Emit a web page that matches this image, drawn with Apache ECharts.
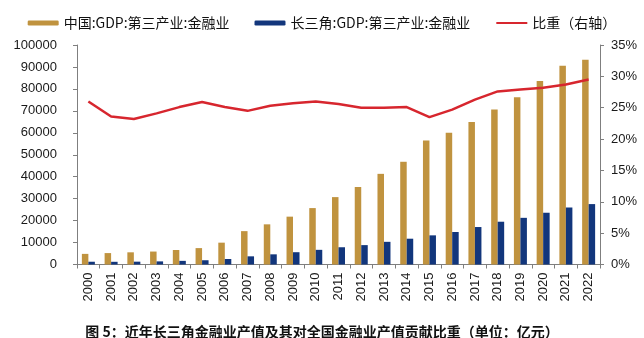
<!DOCTYPE html>
<html>
<head>
<meta charset="utf-8">
<script src="https://cdn.jsdelivr.net/npm/echarts@6/dist/echarts.min.js"></script>
<style>
html,body{margin:0;padding:0;background:#fff;}
#c{width:644px;height:338px;}
</style>
</head>
<body>
<div id="c"></div>
<script>
const years = ['2000','2001','2002','2003','2004','2005','2006','2007','2008','2009','2010','2011','2012','2013','2014','2015','2016','2017','2018','2019','2020','2021','2022'];
const chinaFinance = [4840,5200,5550,5900,6600,7470,9950,15200,18300,21800,25700,30700,35300,41300,46800,56500,60000,64900,70600,76200,83600,90500,93300];
const yrdFinance = [1260,1230,1290,1420,1660,1940,2500,3720,4630,5600,6680,7860,8830,10330,11750,13280,14820,17070,19490,21260,23580,25970,27520];
const shareRatio = [26.0,23.6,23.2,24.1,25.1,25.9,25.1,24.5,25.3,25.7,26.0,25.6,25.0,25.0,25.1,23.5,24.7,26.3,27.6,27.9,28.2,28.7,29.5];
const seriesNames = ['中国:GDP:第三产业:金融业','长三角:GDP:第三产业:金融业','比重（右轴）'];
const caption = '图 5：近年长三角金融业产值及其对全国金融业产值贡献比重（单位：亿元）';

const axisFont = {fontFamily:'Liberation Sans, Arial, sans-serif', fontSize:13, color:'#1a1a1a'};
const axisLineStyle = {lineStyle:{color:'#7f7f7f', width:1}};

const chart = echarts.init(document.getElementById('c'), null, {renderer:'canvas'});
chart.setOption({
  animation:false,
  backgroundColor:'#fff',
  title:{
    text:caption,
    left:'center',
    top:318,
    textStyle:{fontFamily:'Noto Sans CJK SC', fontSize:14, lineHeight:18, fontWeight:'bold', color:'#111'}
  },
  legend:{
    top:11,
    left:'center',
    itemWidth:31,
    itemHeight:5,
    itemGap:25,
    textStyle:{fontFamily:'Noto Sans CJK SC', fontSize:14, color:'#111'},
    data:[
      {name:seriesNames[0]},
      {name:seriesNames[1]},
      {name:seriesNames[2], itemStyle:{color:'rgba(0,0,0,0)', borderWidth:0, opacity:0}}
    ]
  },
  grid:{left:77, right:44, top:45, bottom:73.5, containLabel:false, outerBoundsMode:'none'},
  xAxis:{
    type:'category',
    data:years,
    boundaryGap:true,
    axisLine:axisLineStyle,
    axisTick:{show:true, alignWithLabel:false, length:4, lineStyle:{color:'#7f7f7f'}},
    axisLabel:Object.assign({rotate:90, margin:8, interval:0}, axisFont),
    splitLine:{show:false}
  },
  yAxis:[
    {
      type:'value', min:0, max:100000, interval:10000,
      axisLine:Object.assign({show:true}, axisLineStyle),
      axisTick:{show:true, length:4, lineStyle:{color:'#7f7f7f'}},
      axisLabel:Object.assign({margin:20, formatter:function(v){return String(v);}}, axisFont),
      splitLine:{show:false}
    },
    {
      type:'value', min:0, max:35, interval:5,
      axisLine:Object.assign({show:true}, axisLineStyle),
      axisTick:{show:true, length:4, lineStyle:{color:'#7f7f7f'}},
      axisLabel:Object.assign({margin:11, formatter:'{value}%'}, axisFont),
      splitLine:{show:false}
    }
  ],
  series:[
    {
      name:seriesNames[0], type:'bar', data:chinaFinance, barWidth:6.5, barGap:'0%',
      itemStyle:{color:'#C0933F'}
    },
    {
      name:seriesNames[1], type:'bar', data:yrdFinance, barWidth:6.5, barGap:'0%',
      itemStyle:{color:'#12367C'}
    },
    {
      name:seriesNames[2], type:'line', yAxisIndex:1, data:shareRatio,
      symbol:'none', showSymbol:false,
      lineStyle:{color:'#D7262E', width:2.5},
      itemStyle:{color:'#D7262E'}
    }
  ]
});
</script>
</body>
</html>
